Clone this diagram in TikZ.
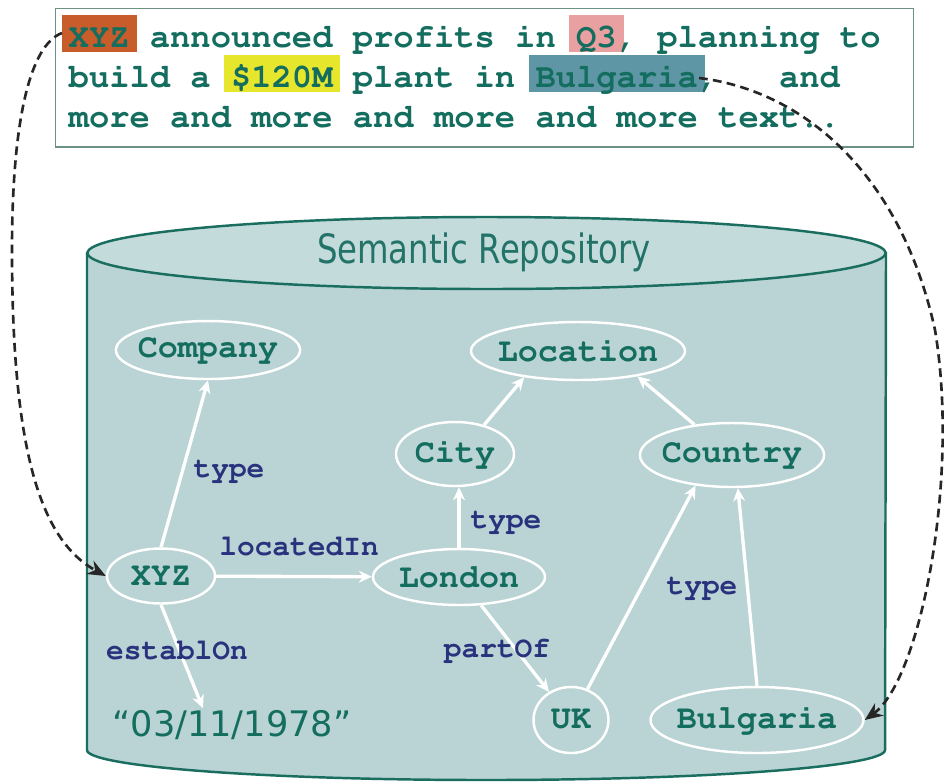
\documentclass[tikz,border=0pt]{standalone}
\usepackage[T1]{fontenc}
\usepackage{fontspec}
\setsansfont{DejaVu Sans}
\usepackage{graphicx}
\usepackage{tikz}
\usetikzlibrary{shapes.geometric,arrows.meta}

\definecolor{inkteal}{RGB}{20,110,95}
\definecolor{inknavy}{RGB}{40,50,125}
\definecolor{repoink}{RGB}{35,115,105}
\definecolor{cylfill}{RGB}{186,211,212}
\definecolor{cyltop}{RGB}{196,219,219}
\definecolor{cylline}{RGB}{25,110,95}
\definecolor{boxline}{RGB}{110,145,135}
\definecolor{hlorange}{RGB}{200,92,42}
\definecolor{hlpink}{RGB}{232,160,160}
\definecolor{hlyellow}{RGB}{230,230,45}
\definecolor{hlblue}{RGB}{95,150,165}

\newcommand{\courb}[2]{\fontencoding{T1}\fontfamily{pcr}\fontseries{b}\fontshape{n}\fontsize{#1}{#2}\selectfont}
\newcommand{\monospaces}{\spaceskip=\fontcharwd\font`a\relax\xspaceskip=\spaceskip}
\newcommand{\hlword}[2]{\hspace*{-4pt}{\setlength{\fboxsep}{0pt}\colorbox{#1}{\rule[-3pt]{0pt}{21.5pt}\hspace{4pt}#2\hspace{4pt}}}\hspace*{-4pt}}

\tikzset{
  textbox/.style={draw=boxline, line width=0.8pt, fill=white, text width=166.4mm,
    inner xsep=2.6mm, minimum height=27mm, align=left, text=inkteal,
    font=\courb{19.25}{22.8}},
  cylbody/.style={fill=cylfill, draw=cylline, line width=1.4pt},
  concept/.style={ellipse, draw=white, line width=1.4pt, fill=cylfill, text=inkteal,
    font=\courb{19}{21}, inner xsep=-1mm, inner ysep=0pt},
  rel/.style={draw=white, line width=1.9pt, -{Stealth[length=2.6mm,width=2.4mm]}},
  rellabel/.style={text=inknavy, font=\courb{16.8}{18}, inner sep=1pt},
  link/.style={draw=black!85, dash pattern=on 5pt off 3pt, line width=1.5pt,
    -{Stealth[length=3.6mm,width=3mm]}},
}

\begin{document}
\begin{tikzpicture}[x=0.2mm,y=-0.2mm]
    \useasboundingbox (0,0) rectangle (944,783);
    % repository
    \filldraw[cylbody] (87,253) -- (87,750) arc[start angle=180,end angle=360,x radius=79.8mm,y radius=6mm] -- (886,253) -- cycle;
    \filldraw[cylbody,fill=cyltop] (486.5,253) ellipse[x radius=79.8mm,y radius=7.2mm];
    \node[text=repoink,font=\sffamily\fontsize{23}{26}\selectfont] (repo) at (484,252) {\scalebox{0.8}[1]{Semantic Repository}};
    % the sentence
    \node[textbox,anchor=north west] (sentence) at (55,8) {\monospaces\hlword{hlorange}{XYZ} announced profits in \hlword{hlpink}{Q3}, planning to\\
      build a \hlword{hlyellow}{\$120M} plant in \hlword{hlblue}{Bulgaria},\ \ \ and\\
      more and more and more and more text..\rule[-8pt]{0pt}{8pt}};
    \coordinate (xyzmark) at (62,33);
    \coordinate (bgmark) at (699,78);
    % concepts
    \node[concept,minimum width=36.8mm,minimum height=11.6mm] (company) at (208,350) {Company};
    \node[concept,minimum width=42.8mm,minimum height=11.6mm] (location) at (578,351) {Location};
    \node[concept,minimum width=23.6mm,minimum height=12.8mm] (city) at (455,454) {City};
    \node[concept,minimum width=36.8mm,minimum height=12.8mm] (country) at (732,455) {Country};
    \node[concept,minimum width=21.6mm,minimum height=11mm] (xyz) at (161,576) {XYZ};
    \node[concept,minimum width=34.4mm,minimum height=11.2mm] (london) at (459,577) {London};
    \node[concept,minimum width=15mm,minimum height=13.2mm] (uk) at (571,720) {UK};
    \node[concept,minimum width=42.6mm,minimum height=13.2mm] (bulgaria) at (757,720) {Bulgaria};
    \node[text=inkteal,font=\sffamily\fontsize{20}{22}\selectfont,inner sep=1pt] (date) at (232,725) {“03/11/1978”};
    % relations
    \draw[rel] (xyz.north) -- (company.south);
    \draw[rel] (xyz) -- (london);
    \draw[rel] (xyz.south) -- (date.150);
    \draw[rel] (london.north) -- (london.north |- city.south);
    \draw[rel] (london) -- (uk);
    \draw[rel] (city.45) -- (location.206);
    \draw[rel] (country.141) -- (location.337);
    \draw[rel] (uk) -- (country.220);
    \draw[rel] (bulgaria.north) -- (country.280);
    \node[rellabel] (ltype1) at (229,471) {type};
    \node[rellabel] (llocated) at (299,546) {locatedIn};
    \node[rellabel] (ltype2) at (506,522) {type};
    \node[rellabel] (lestabl) at (177,650) {establOn};
    \node[rellabel] (lpart) at (497,650) {partOf};
    \node[rellabel] (ltype3) at (702,588) {type};
    % annotations
    \draw[link] (xyzmark) .. controls (30,45) and (12,120) .. (12,250) .. controls (12,450) and (40,540) .. (xyz.west);
    \draw[link] (bgmark) .. controls (800,90) and (900,170) .. (935,330) .. controls (960,480) and (920,680) .. (bulgaria.east);
\end{tikzpicture}
\end{document}
